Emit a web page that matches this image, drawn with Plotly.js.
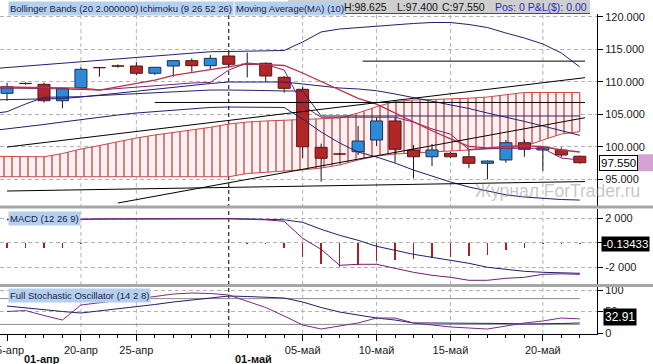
<!DOCTYPE html>
<html><head><meta charset="utf-8">
<script src="https://cdn.plot.ly/plotly-3.0.1.min.js"></script>
<style>html,body{margin:0;padding:0;background:#fff;overflow:hidden}</style>
</head><body>
<div id="chart" style="width:653px;height:364px"></div>
<script>
// ---------------- data ----------------
const barIdx  = [0,1,2,3,4,5,6,7,8,9,10,11,12,13,14,15,16,17,18,19,20,21,22,23,24,25,26,27,28,29,30,31];
const lineIdx = [-1,0,1,2,3,4,5,6,7,8,9,10,11,12,13,14,15,16,17,18,19,20,21,22,23,24,25,26,27,28,29,30,31];

const openP  = [108.24,109.78,109.63,107.10,109.11,112.22,112.47,112.45,111.33,112.45,113.27,112.50,113.99,112.73,112.87,110.71,108.86,99.92,98.91,99.25,101.05,103.98,99.51,98.47,99.00,98.47,97.46,97.97,100.63,99.51,99.51,98.55];
const highP  = [109.88,109.92,109.90,109.10,112.25,112.30,112.70,113.07,112.30,113.30,113.63,114.14,114.40,114.50,113.00,110.90,109.26,100.50,99.05,103.20,104.55,104.55,100.28,100.43,99.20,99.51,97.90,101.05,101.15,99.97,99.92,98.625];
const lowP   = [107.10,109.60,106.80,105.93,109.05,110.80,112.20,111.02,111.06,110.80,111.57,111.83,112.34,110.70,110.03,108.34,98.23,94.62,98.70,98.74,100.12,97.55,95.14,97.04,98.30,96.69,94.99,97.55,98.47,96.32,98.38,97.40];
const closeP = [109.26,109.74,107.10,109.01,111.94,112.18,112.43,111.33,112.25,113.27,112.50,113.63,112.71,112.69,110.91,109.01,100.01,98.23,98.87,100.89,103.98,99.62,98.47,99.51,98.47,97.46,97.81,100.63,99.62,99.86,98.74,97.55];

const bbUpper  = [111.99,112.22,112.45,112.68,112.91,113.14,113.37,113.61,113.84,114.07,114.30,114.45,114.65,114.68,114.73,114.76,114.84,116.15,117.69,118.15,118.38,118.61,118.77,119.00,119.15,119.15,118.84,118.38,117.53,116.76,115.84,114.45,112.30];
const bbMiddle = [107.21,107.29,107.32,107.37,107.44,107.67,107.98,108.29,108.60,108.91,109.21,109.45,109.75,109.98,109.98,109.98,109.98,109.68,109.37,109.06,108.91,108.64,108.14,107.60,107.06,106.55,105.90,105.21,104.59,103.91,103.21,102.43,101.76];
const bbLower  = [102.43,102.74,103.05,103.44,103.82,104.21,104.59,104.90,105.21,105.44,105.67,105.90,106.06,106.13,106.13,106.13,106.06,104.28,102.28,100.59,99.20,98.43,97.50,96.42,95.50,94.58,93.81,93.19,92.60,92.27,92.03,91.88,91.80];
const kijun    = [105.05,105.41,106.59,107.63,107.67,107.72,107.90,108.06,108.21,108.37,108.52,108.67,108.75,108.75,108.75,108.67,108.60,108.60,104.75,104.75,104.75,104.75,104.75,104.75,104.75,104.75,104.75,104.75,104.75,104.75,104.75,104.75,104.75];
const tenkan   = [109.06,109.06,109.06,108.98,108.91,108.83,108.75,108.98,109.21,109.45,109.68,109.83,109.91,111.83,112.91,112.68,111.83,106.36,104.56,104.56,104.56,104.56,104.56,103.82,102.76,101.94,99.58,99.77,99.77,99.77,99.77,98.27,97.97];
const ma10     = [109.24,109.21,109.17,109.12,109.08,109.03,108.75,109.29,109.75,110.29,110.99,111.45,111.83,112.39,112.76,112.65,112.53,111.37,110.05,108.71,107.47,106.59,105.21,103.78,102.47,101.22,100.06,99.85,100.08,100.15,100.05,99.51,99.20];
const senkouTop    = [98.54,98.51,98.47,98.47,98.97,99.66,100.20,100.82,101.36,101.82,102.20,102.59,103.00,103.51,103.82,103.98,104.10,104.18,104.24,104.44,105.21,106.18,106.98,107.21,107.29,107.37,107.49,107.67,107.98,108.37,108.37,108.37,108.37];
const senkouBottom = [95.39,95.39,95.39,95.39,95.39,95.39,95.39,95.39,95.39,95.39,95.39,95.39,95.39,95.39,95.89,96.12,96.27,96.46,96.73,97.20,97.97,98.58,98.89,99.04,99.20,99.35,99.51,99.66,99.82,100.05,101.05,101.97,102.33];

// drawn objects: [x0, y0, x1, y1] in bar index / price
const drawnLines = [
  [0, 99.97, 31.28, 110.65],
  [0, 93.19, 31.28, 94.65],
  [6.0, 91.34, 31.28, 104.48],
  [8.0, 106.83, 31.28, 106.83],
  [19.25, 113.2, 31.28, 113.2]
];

const macdLine   = [1.878,1.878,1.878,1.878,1.918,1.959,1.959,1.959,1.976,2.0,2.0,2.0,1.959,1.918,1.878,1.755,0.367,-0.531,-1.837,-1.755,-1.755,-2.082,-2.408,-2.653,-2.816,-3.061,-3.061,-2.898,-2.816,-2.571,-2.531,-2.571];
const macdSignal = [1.90,1.91,1.92,1.93,1.93,1.94,1.95,1.96,1.97,1.97,1.98,1.98,1.97,1.95,1.92,1.878,1.673,1.102,0.612,0.204,-0.286,-0.612,-0.939,-1.184,-1.429,-1.673,-2.0,-2.163,-2.327,-2.408,-2.449,-2.490];
const macdHist   = [-0.45,-0.42,-0.45,-0.45,-0.12,-0.05,-0.05,-0.05,-0.05,-0.05,-0.05,-0.05,-0.05,-0.08,-0.10,-0.45,-1.16,-1.70,-1.98,-1.78,-1.51,-1.43,-1.29,-1.24,-1.16,-1.08,-0.96,-0.56,-0.42,-0.10,-0.10,-0.13433];

const stochK = [50,52.3,40.7,30.2,65.1,70.9,75.6,79.1,84.9,90.7,93.0,91.9,88.4,74.4,59.3,39.5,18.6,9.3,16.3,23.3,34.9,34.9,23.3,18.6,14.0,11.6,9.3,16.3,23.3,27.9,34.9,32.91];
const stochD = [62.8,58.1,53.5,50,46.5,51.2,55.8,60.5,66.3,72.1,76.7,81.4,86,84.9,83.7,81.4,72.1,59.3,48.8,41.9,34.9,30.2,23.3,23.3,23.3,23.3,23.3,22.1,20.9,20.9,22.1,23.3];
const stochLevels = [80, 20];

const tickIdx  = [0,4,7,16,20,24,29];
const tickText = ['15-апр','20-апр','25-апр','05-май','10-май','15-май','20-май'];
const gridIdx  = [4,7,16,20,24,29];
const monthIdx  = [0,12];
const monthText = ['01-апр','01-май'];
const monthShift = [15,4];

const lastPrice = 97.55;
const lastMacd = -0.13433;
const lastStoch = 32.91;

// ---------------- styles ----------------
const FONT = 'Liberation Sans, Arial, sans-serif';
const NAVY = '#1f1f72';
const xRange = [-0.38, 31.93];
const W = 597, H = 334; // plot area in px
const px = v => v / W;
const py = v => (H - v) / H;

const traces = [];

// Ichimoku cloud
traces.push({
  type:'scatter', mode:'lines', xaxis:'x', yaxis:'y', hoverinfo:'skip',
  x: lineIdx.concat(lineIdx.slice().reverse()),
  y: senkouTop.concat(senkouBottom.slice().reverse()),
  fill:'toself',
  fillpattern:{shape:'|', size:8, solidity:0.14, fgcolor:'#b02a2a', bgcolor:'#fff1f1', fillmode:'replace'},
  line:{color:'#c94848', width:1}
});

// wicks
(function(){
  const xs=[], ys=[];
  barIdx.forEach((i,k)=>{ xs.push(i,i,null); ys.push(lowP[k],highP[k],null); });
  traces.push({type:'scatter', mode:'lines', x:xs, y:ys, xaxis:'x', yaxis:'y', hoverinfo:'skip',
    line:{color:'#151515', width:1}});
})();

// bodies
const hw = 0.325;
function bodies(up){
  const xs=[], ys=[];
  barIdx.forEach((i,k)=>{
    const o=openP[k], c=closeP[k];
    if ((c>o)!==up) return;
    const b=Math.min(o,c), t=Math.max(o,c);
    xs.push(i-hw,i+hw,i+hw,i-hw,i-hw,null);
    ys.push(b,b,t,t,b,null);
  });
  return {type:'scatter', mode:'lines', x:xs, y:ys, xaxis:'x', yaxis:'y', hoverinfo:'skip',
    fill:'toself', fillcolor: up ? '#2c8bd6' : '#b12727',
    line:{color: up ? '#1b2d58' : '#5a1313', width:1, simplify:false}};
}
traces.push(bodies(false), bodies(true));

function line(y, color, width, ax){
  return {type:'scatter', mode:'lines', x:lineIdx, y:y, xaxis:'x', yaxis:ax||'y', hoverinfo:'skip',
    line:{color:color, width:width||1}};
}
traces.push(line(bbUpper, NAVY), line(bbMiddle, NAVY), line(bbLower, NAVY), line(kijun, '#2a206e'));
traces.push(line(tenkan, '#7d2370'), line(ma10, '#b8304a', 1.3));

// drawn black lines
(function(){
  const xs=[], ys=[];
  drawnLines.forEach(s=>{ xs.push(s[0],s[2],null); ys.push(s[1],s[3],null); });
  traces.push({type:'scatter', mode:'lines', x:xs, y:ys, xaxis:'x', yaxis:'y', hoverinfo:'skip',
    line:{color:'#000', width:1}});
})();

// MACD
traces.push({type:'bar', x:barIdx, y:macdHist, xaxis:'x', yaxis:'y2', width:0.08,
  marker:{color:'#a82020', line:{width:0}}, hoverinfo:'skip'});
traces.push({type:'scatter', mode:'lines', x:barIdx, y:macdSignal, xaxis:'x', yaxis:'y2', hoverinfo:'skip', line:{color:NAVY, width:1}});
traces.push({type:'scatter', mode:'lines', x:barIdx, y:macdLine, xaxis:'x', yaxis:'y2', hoverinfo:'skip', line:{color:'#7a1a6e', width:1}});

// Stochastic
traces.push({type:'scatter', mode:'lines', x:barIdx, y:stochD, xaxis:'x', yaxis:'y3', hoverinfo:'skip', line:{color:NAVY, width:1}});
traces.push({type:'scatter', mode:'lines', x:barIdx, y:stochK, xaxis:'x', yaxis:'y3', hoverinfo:'skip', line:{color:'#7a2a8a', width:1}});

// ---------------- shapes ----------------
const shapes = [];
gridIdx.forEach(i=>shapes.push({type:'line', xref:'x', yref:'paper', x0:i, x1:i, y0:0, y1:py(14),
  line:{color:'#b4b4b4', width:1, dash:'4px,3px'}, layer:'below'}));
shapes.push({type:'line', xref:'x', yref:'paper', x0:monthIdx[1], x1:monthIdx[1], y0:0, y1:py(14),
  line:{color:'#000', width:1, dash:'4px,3px'}, layer:'below'});
stochLevels.forEach(v=>shapes.push({type:'line', xref:'x', yref:'y3', x0:xRange[0], x1:barIdx[barIdx.length-1], y0:v, y1:v,
  line:{color:'#8c8c8c', width:1}, layer:'below'}));
// panel separators
shapes.push({type:'rect', xref:'paper', yref:'paper', x0:0, x1:653/W, y0:py(208.5), y1:py(205.5), fillcolor:'#a6a6a6', line:{width:0}, layer:'above'});
shapes.push({type:'rect', xref:'paper', yref:'paper', x0:0, x1:653/W, y0:py(287), y1:py(284), fillcolor:'#a6a6a6', line:{width:0}, layer:'above'});
// header bar
shapes.push({type:'rect', xref:'paper', yref:'paper', x0:px(288), x1:px(590), y0:py(13.5), y1:1, fillcolor:'#cfcfcf', line:{width:0}, layer:'above'});
shapes.push({type:'line', xref:'paper', yref:'paper', x0:px(288), x1:px(590), y0:py(13.5), y1:py(13.5), line:{color:'#4a4a4a', width:1}, layer:'above'});
// lilac marker next to price box
shapes.push({type:'rect', xref:'paper', yref:'y', x0:px(638), x1:653/W, y0:lastPrice-1.31, y1:lastPrice+1.31, fillcolor:'#d4a3d4', line:{width:0}, layer:'above'});

// ---------------- annotations ----------------
const ann = [];
function label(text, x, y, opts){
  return Object.assign({text:text, xref:'paper', yref:'paper', x:px(x), y:py(y), xanchor:'left', yanchor:'middle',
    showarrow:false, font:{family:FONT, size:9.5, color:'#1c1c48'}}, opts||{});
}
ann.push(label('Bollinger Bands (20 2.000000)', 8, 8.5, {bgcolor:'#b4d0ee', borderpad:1}));
ann.push(label('Ichimoku (9 26 52 26)', 138, 8.5, {bgcolor:'#b4d0ee', borderpad:1}));
ann.push(label('Moving Average(MA) (10)', 234, 8.5, {bgcolor:'#b4d0ee', borderpad:1}));
ann.push(label('H:98.625', 342, 7, {font:{family:FONT, size:10.5, color:'#111'}}));
ann.push(label('L:97.400', 395, 7, {font:{family:FONT, size:10.5, color:'#111'}}));
ann.push(label('C:97.550', 440, 7, {font:{family:FONT, size:10.5, color:'#111'}}));
ann.push(label('Pos: 0 P&amp;L($): 0.00', 493, 7, {font:{family:FONT, size:10.5, color:'#2a2ab8'}}));
ann.push(label('MACD (12 26 9)', 8, 218.5, {bgcolor:'#b4d0ee', borderpad:1}));
ann.push(label('Full Stochastic Oscillator (14 2 8)', 8, 295.5, {bgcolor:'#b4d0ee', borderpad:1}));
ann.push(label('Журнал ForTrader.ru', 473, 190.5, {font:{family:FONT, size:17.5, color:'rgba(150,150,150,0.55)'}}));
// right value boxes
ann.push({text:lastPrice.toFixed(3), xref:'paper', yref:'y', x:px(599), y:lastPrice, xanchor:'left', yanchor:'middle',
  showarrow:false, bgcolor:'#fff', bordercolor:'#000', borderwidth:1, borderpad:1, font:{family:FONT, size:11.5, color:'#000'}});
ann.push({text:String(lastMacd), xref:'paper', yref:'y2', x:px(601), y:lastMacd, xanchor:'left', yanchor:'middle',
  showarrow:false, bgcolor:'#000', borderpad:1, font:{family:FONT, size:11.5, color:'#fff'}});
ann.push({text:lastStoch.toFixed(2), xref:'paper', yref:'y3', x:px(603), y:lastStoch, xanchor:'left', yanchor:'middle', yshift:1.5,
  showarrow:false, bgcolor:'#000', borderpad:1, font:{family:FONT, size:12, color:'#fff'}});
// month labels
monthIdx.forEach((m,k)=>ann.push({text:'<b>'+monthText[k]+'</b>', xref:'x', yref:'paper', x:m, y:py(359), xanchor:'left', yanchor:'middle',
  xshift:monthShift[k], showarrow:false, font:{family:FONT, size:11, color:'#111'}}));

// ---------------- layout ----------------
const yCommon = {side:'right', anchor:'x', ticks:'outside', ticklen:5, tickcolor:'#000', tickwidth:1,
  showline:true, linecolor:'#000', linewidth:1, zeroline:false, fixedrange:true,
  gridcolor:'#b4b4b4', griddash:'4px,3px', gridwidth:1,
  tickfont:{family:FONT, size:11, color:'#1a1a1a'}};

const layout = {
  width:653, height:364,
  margin:{l:0, r:56, t:0, b:30, pad:0},
  paper_bgcolor:'#fff', plot_bgcolor:'rgba(0,0,0,0)',
  showlegend:false, hovermode:false, bargap:0,
  font:{family:FONT, size:11, color:'#111'},
  xaxis:{domain:[0,1], range:xRange, anchor:'y3', showgrid:false, zeroline:false, fixedrange:true,
    showline:true, linecolor:'#000', linewidth:1, ticklabeloverflow:'allow',
    tickmode:'array', tickvals:tickIdx, ticktext:tickText, ticks:'outside', ticklen:6, tickcolor:'#000',
    tickfont:{family:FONT, size:11, color:'#1a1a1a'},
    minor:{tickmode:'array', tickvals:barIdx, ticks:'outside', ticklen:3, tickcolor:'#000', showgrid:false}},
  yaxis:Object.assign({}, yCommon, {domain:[py(205.5), py(14)], range:[90.96,120.46],
    tickmode:'array', tickvals:[95,100,105,110,115,120], ticktext:['95.000','100.000','105.000','110.000','115.000','120.000']}),
  yaxis2:Object.assign({}, yCommon, {domain:[py(284), py(208.5)], range:[-3.363,2.80],
    tickmode:'array', tickvals:[2,0,-2], ticktext:['2 000','','-2 000']}),
  yaxis3:Object.assign({}, yCommon, {domain:[0, py(287)], range:[-2.33,107],
    tickmode:'array', tickvals:[100,50,0], ticktext:['100','50','0']}),
  shapes:shapes,
  annotations:ann
};

Plotly.newPlot('chart', traces, layout, {displayModeBar:false, staticPlot:true});
</script>
</body></html>
